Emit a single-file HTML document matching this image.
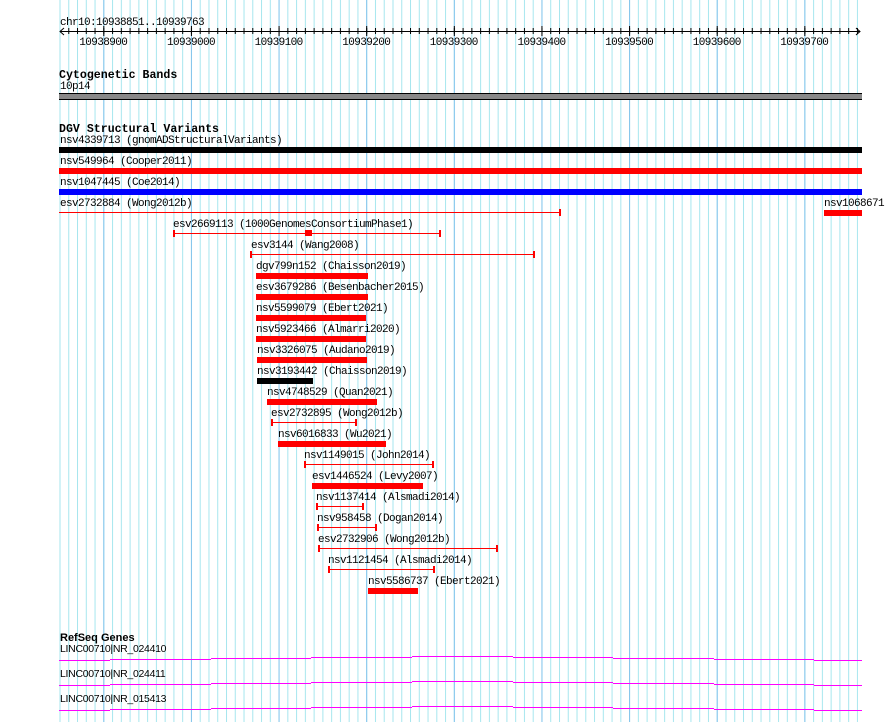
<!DOCTYPE html>
<html><head><meta charset="utf-8"><style>
html,body{margin:0;padding:0;background:#fff}
svg{display:block}
text{font-family:"Liberation Mono",monospace;font-size:11px;letter-spacing:-0.6px;fill:#000}
.b{font-weight:bold;font-size:11.6px;letter-spacing:0}
.s{font-family:"Liberation Sans",sans-serif;font-size:10.5px;letter-spacing:-0.3px}
.sb{font-family:"Liberation Sans",sans-serif;font-size:11px;font-weight:bold;letter-spacing:0}
</style></head><body>
<svg width="890" height="722" viewBox="0 0 890 722" xmlns="http://www.w3.org/2000/svg">
<defs>
<pattern id="mn" x="59.5" y="0" width="8.763" height="722" patternUnits="userSpaceOnUse"><rect x="0" y="0" width="1" height="722" fill="#a6e6ee"/></pattern>
<pattern id="mj" x="103.3" y="0" width="87.63" height="722" patternUnits="userSpaceOnUse"><rect x="0" y="0" width="1" height="722" fill="#84c4ec"/></pattern>
<pattern id="tk" x="59.5" y="0" width="8.763" height="40" patternUnits="userSpaceOnUse"><rect x="0" y="28" width="1" height="6" fill="#000"/></pattern>
<pattern id="tkm" x="103.3" y="0" width="87.63" height="40" patternUnits="userSpaceOnUse"><rect x="0" y="26" width="1" height="10" fill="#000"/></pattern>
</defs>
<rect x="59" y="0" width="799" height="722" fill="url(#mn)"/>
<rect x="59" y="0" width="799" height="722" fill="url(#mj)"/>
<!-- ruler -->
<text x="60" y="25">chr10:10938851..10939763</text>
<rect x="60" y="31" width="800" height="1" fill="#000"/>
<rect x="62" y="26" width="796" height="10" fill="url(#tk)"/>
<rect x="62" y="24" width="796" height="14" fill="url(#tkm)"/>
<path d="M64 28 L60 31.5 L64 35 M856 28 L860 31.5 L856 35" stroke="#000" fill="none"/>
<g text-anchor="middle">
<text x="103.3" y="45">10938900</text><text x="191" y="45">10939000</text><text x="278.6" y="45">10939100</text>
<text x="366.2" y="45">10939200</text><text x="453.8" y="45">10939300</text><text x="541.5" y="45">10939400</text>
<text x="629.1" y="45">10939500</text><text x="716.7" y="45">10939600</text><text x="804.3" y="45">10939700</text>
</g>
<!-- cyto -->
<text class="b" x="59" y="78">Cytogenetic Bands</text>
<text x="60" y="89">10p14</text>
<rect x="59" y="93" width="803" height="7" fill="#000"/>
<rect x="59" y="94" width="803" height="5" fill="#888"/>
<!-- DGV -->
<text class="b" x="59" y="132">DGV Structural Variants</text>
<text x="60" y="143">nsv4339713 (gnomADStructuralVariants)</text>
<rect x="59" y="147" width="803" height="6" fill="#000"/>
<text x="60" y="164">nsv549964 (Cooper2011)</text>
<rect x="59" y="168" width="803" height="6" fill="#f00"/>
<text x="60" y="185">nsv1047445 (Coe2014)</text>
<rect x="59" y="189" width="803" height="6" fill="#00f"/>
<text x="60" y="206">esv2732884 (Wong2012b)</text>
<rect x="59" y="212" width="501" height="1" fill="#f00"/><rect x="559" y="209" width="2" height="7" fill="#f00"/>
<text x="824" y="206">nsv1068671</text>
<rect x="824" y="210" width="38" height="6" fill="#f00"/>
<g fill="#f00">
<text x="173" y="227">esv2669113 (1000GenomesConsortiumPhase1)</text>
<rect x="174" y="233" width="266" height="1"/><rect x="173" y="230" width="2" height="7"/><rect x="439" y="230" width="2" height="7"/><rect x="305" y="230" width="7" height="6"/>
<text x="251" y="248">esv3144 (Wang2008)</text>
<rect x="251" y="254" width="283" height="1"/><rect x="250" y="251" width="2" height="7"/><rect x="533" y="251" width="2" height="7"/>
<text x="256" y="269">dgv799n152 (Chaisson2019)</text><rect x="256" y="273" width="112" height="6"/>
<text x="256" y="290">esv3679286 (Besenbacher2015)</text><rect x="256" y="294" width="112" height="6"/>
<text x="256" y="311">nsv5599079 (Ebert2021)</text><rect x="256" y="315" width="110" height="6"/>
<text x="256" y="332">nsv5923466 (Almarri2020)</text><rect x="256" y="336" width="110" height="6"/>
<text x="257" y="353">nsv3326075 (Audano2019)</text><rect x="257" y="357" width="110" height="6"/>
<text x="257" y="374">nsv3193442 (Chaisson2019)</text><rect x="257" y="378" width="56" height="6" fill="#000"/>
<text x="267" y="395">nsv4748529 (Quan2021)</text><rect x="267" y="399" width="110" height="6"/>
<text x="271" y="416">esv2732895 (Wong2012b)</text>
<rect x="271" y="422" width="85" height="1"/><rect x="271" y="419" width="2" height="7"/><rect x="355" y="419" width="2" height="7"/>
<text x="278" y="437">nsv6016833 (Wu2021)</text><rect x="278" y="441" width="108" height="6"/>
<text x="304" y="458">nsv1149015 (John2014)</text>
<rect x="304" y="464" width="129" height="1"/><rect x="304" y="461" width="2" height="7"/><rect x="432" y="461" width="2" height="7"/>
<text x="312" y="479">esv1446524 (Levy2007)</text><rect x="312" y="483" width="111" height="6"/>
<text x="316" y="500">nsv1137414 (Alsmadi2014)</text>
<rect x="316" y="506" width="47" height="1"/><rect x="316" y="503" width="2" height="7"/><rect x="362" y="503" width="2" height="7"/>
<text x="317" y="521">nsv958458 (Dogan2014)</text>
<rect x="317" y="527" width="59" height="1"/><rect x="317" y="524" width="2" height="7"/><rect x="375" y="524" width="2" height="7"/>
<text x="318" y="542">esv2732906 (Wong2012b)</text>
<rect x="318" y="548" width="179" height="1"/><rect x="318" y="545" width="2" height="7"/><rect x="496" y="545" width="2" height="7"/>
<text x="328" y="563">nsv1121454 (Alsmadi2014)</text>
<rect x="328" y="569" width="106" height="1"/><rect x="328" y="566" width="2" height="7"/><rect x="433" y="566" width="2" height="7"/>
<text x="368" y="584">nsv5586737 (Ebert2021)</text><rect x="368" y="588" width="50" height="6"/>
</g>
<!-- RefSeq -->
<text class="sb" x="60" y="641">RefSeq Genes</text>
<text class="s" x="60" y="652">LINC00710|NR_024410</text>
<text class="s" x="60" y="677">LINC00710|NR_024411</text>
<text class="s" x="60" y="702">LINC00710|NR_015413</text>
<g fill="#f0f">
<g id="g1">
<rect x="59" y="660" width="51" height="1"/><rect x="110" y="659" width="101" height="1"/><rect x="211" y="658" width="100" height="1"/>
<rect x="311" y="657" width="101" height="1"/><rect x="412" y="656" width="101" height="1"/><rect x="513" y="657" width="100" height="1"/>
<rect x="613" y="658" width="101" height="1"/><rect x="714" y="659" width="100" height="1"/><rect x="814" y="660" width="48" height="1"/>
</g>
<use href="#g1" y="25"/>
<use href="#g1" y="50"/>
</g>
</svg>
</body></html>
